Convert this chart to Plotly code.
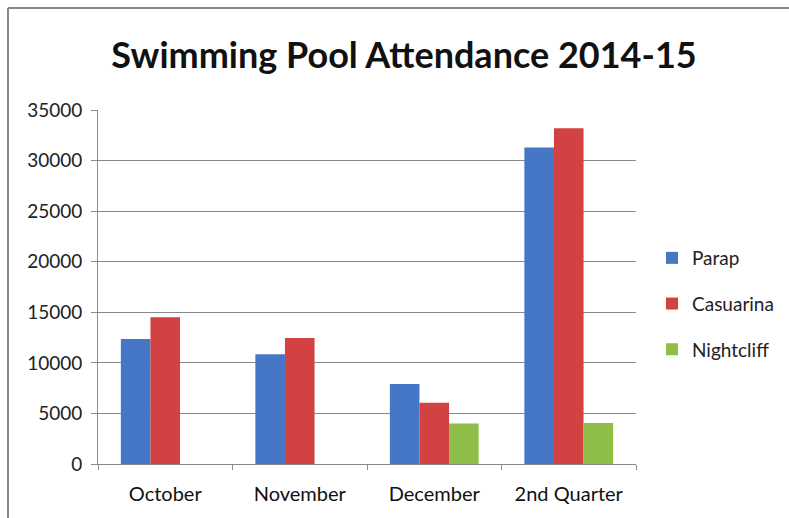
import plotly.graph_objects as go

categories = ["October", "November", "December", "2nd Quarter"]
parap = [12350, 10850, 7900, 31300]
casuarina = [14500, 12450, 6050, 33200]
nightcliff = [None, None, 4000, 4050]

W, H = 789, 518
L, R, T, B = 98, 153, 110, 54
pw, ph = W - L - R, H - T - B

def px_x(x):
    return (x - L) / pw

def px_y(y):
    return (H - B - y) / ph

font = "Lato, 'Open Sans', sans-serif"

fig = go.Figure()
series = [("Parap", parap, "#4677C6"), ("Casuarina", casuarina, "#D24242"), ("Nightcliff", nightcliff, "#8FBE48")]
for name, vals, col in series:
    fig.add_trace(go.Bar(x=categories, y=vals, name=name, marker=dict(color=col, line=dict(width=0)),
                         legendgroup=name))

fig.update_layout(
    width=W, height=H,
    margin=dict(l=L, r=R, t=T, b=B, autoexpand=False),
    paper_bgcolor="white", plot_bgcolor="white",
    barmode="group", bargap=0.34, bargroupgap=0,
    title=dict(text="<b>Swimming Pool Attendance 2014-15</b>", x=404 / W, xanchor="center",
               y=1 - 55 / H, yanchor="middle", font=dict(family=font, size=36, color="#111111")),
    legend=dict(x=px_x(652), xanchor="left", y=px_y(304), yanchor="middle",
                font=dict(family=font, size=19, color="#222222"), tracegroupgap=18,
                itemwidth=30, bgcolor="rgba(0,0,0,0)"),
    font=dict(family=font, color="#222222"),
    showlegend=True,
)
fig.update_xaxes(showline=True, linecolor="#8a8a8a", linewidth=1, ticks="outside", tickson="boundaries",
                 ticklen=5, tickcolor="#8a8a8a", tickfont=dict(size=20, family=font, color="#111111"),
                 ticklabelstandoff=12, showgrid=False)
fig.update_yaxes(range=[0, 35000], dtick=5000, tickformat="d", showline=True, linecolor="#8a8a8a", linewidth=1,
                 ticks="outside", ticklen=6, tickcolor="#8a8a8a", gridcolor="#8a8a8a", gridwidth=1,
                 tickfont=dict(size=19, family=font, color="#222222"), zeroline=False, ticksuffix=" ",
                 showgrid=True)

# chart frame (top and left edges visible in the reference)
fig.add_shape(type="line", xref="paper", yref="paper", x0=px_x(8), x1=px_x(789), y0=px_y(8), y1=px_y(8),
              line=dict(color="#888888", width=2), layer="below")
fig.add_shape(type="line", xref="paper", yref="paper", x0=px_x(8), x1=px_x(8), y0=px_y(8), y1=px_y(518),
              line=dict(color="#888888", width=2), layer="below")

fig.write_html("out.html", config={"displayModeBar": False},
               post_script="document.body.style.margin='0';document.body.style.overflow='hidden';")
